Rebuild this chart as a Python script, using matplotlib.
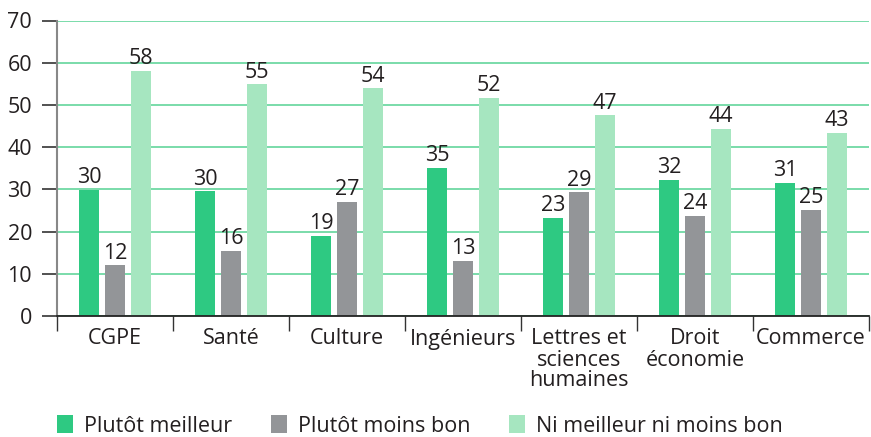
import matplotlib
matplotlib.use("Agg")
import matplotlib.pyplot as plt
import numpy as np
from matplotlib.patches import Patch

plt.rcParams['font.family'] = ['Open Sans', 'DejaVu Sans']

categories = ["CGPE", "Santé", "Culture", "Ingénieurs",
              "Lettres et\nsciences\nhumaines", "Droit\néconomie", "Commerce"]
series_names = ["Plutôt meilleur", "Plutôt moins bon", "Ni meilleur ni moins bon"]
meilleur = [29.9, 29.5, 19.0, 35.1, 23.3, 32.2, 31.5]
moins_bon = [12.0, 15.5, 27.0, 13.1, 29.3, 23.7, 25.1]
ni_ni = [58.0, 54.9, 53.9, 51.7, 47.5, 44.3, 43.4]
labels_meilleur = ["30", "30", "19", "35", "23", "32", "31"]
labels_moins_bon = ["12", "16", "27", "13", "29", "24", "25"]
labels_ni_ni = ["58", "55", "54", "52", "47", "44", "43"]
yticks = [0, 10, 20, 30, 40, 50, 60, 70]

colors = ["#2ec982", "#939598", "#a6e6c0"]
text_color = "#231f20"
FS = 15.5

W, H = 871, 437
fig = plt.figure(figsize=(W / 100, H / 100), dpi=100)
left, right = 57 / W, 869 / W
bottom = (H - 316) / H
top = (H - 20.5) / H
ax = fig.add_axes([left, bottom, right - left, top - bottom])

x = np.arange(len(categories))
bw = 0.172
pitch = 0.222
series = [(meilleur, labels_meilleur), (moins_bon, labels_moins_bon), (ni_ni, labels_ni_ni)]
for i, (vals, labs) in enumerate(series):
    pos = x + (i - 1) * pitch
    bars = ax.bar(pos, vals, width=bw, color=colors[i], zorder=3, linewidth=0)
    for b, lab in zip(bars, labs):
        ax.text(b.get_x() + b.get_width() / 2, b.get_height() + 0.4, lab,
                ha="center", va="bottom", fontsize=FS, color=text_color, zorder=4)

ax.set_xlim(-0.5, len(categories) - 0.5)
ax.set_ylim(0, 70)
ax.set_yticks(yticks)
ax.set_yticklabels([str(v) for v in yticks], fontsize=FS, color=text_color)
ax.tick_params(axis="y", length=11, width=1.2, color="#333333", pad=7)
ax.yaxis.grid(True, color="#6fd9a4", linewidth=1.3, zorder=0)
ax.set_axisbelow(True)

ax.set_xticks(x)
ax.set_xticklabels(categories, fontsize=FS, color=text_color, linespacing=1.0, va="top")
ax.tick_params(axis="x", which="major", length=0, pad=9)
ax.set_xticks(np.arange(-0.5, len(categories), 1.0), minor=True)
ax.tick_params(axis="x", which="minor", length=11, width=1.0, color="#333333")

for s in ["top", "right"]:
    ax.spines[s].set_visible(False)
ax.spines["left"].set_color("#888888")
ax.spines["left"].set_linewidth(1.5)
ax.spines["bottom"].set_color("#222222")
ax.spines["bottom"].set_linewidth(1.3)
ax.spines["bottom"].set_zorder(5)

handles = [Patch(facecolor=c, edgecolor="none") for c in colors]
fig.legend(handles, series_names, loc="center left", bbox_to_anchor=(57 / W, (H - 426) / H),
           ncol=3, frameon=False, fontsize=FS, handlelength=0.75, handleheight=0.9,
           handletextpad=0.5, columnspacing=1.8, labelcolor=text_color,
           borderaxespad=0, borderpad=0)

fig.savefig("out.png", dpi=100)
